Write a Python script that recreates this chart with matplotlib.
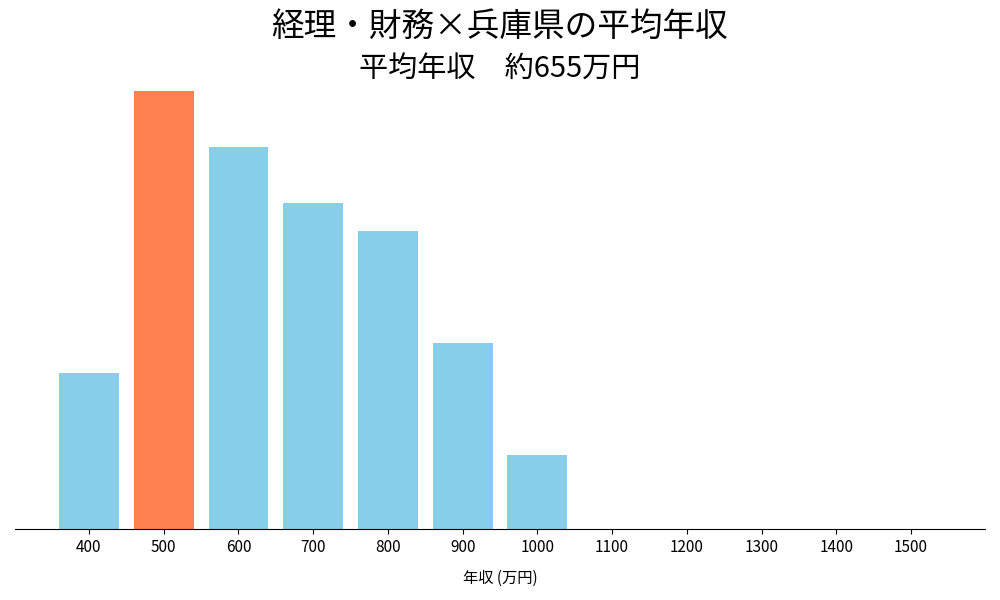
import matplotlib
matplotlib.use("Agg")
import matplotlib.pyplot as plt

plt.rcParams['font.family'] = ['Noto Sans CJK JP', 'DejaVu Sans']

# salary bins (万円) and share of people (%)
bins = [400, 500, 600, 700, 800, 900, 1000, 1100, 1200, 1300, 1400, 1500]
share = [8.4, 23.5, 20.5, 17.5, 16.0, 10.0, 4.0, 0, 0, 0, 0, 0]
highlight_bin = 500

title = "経理・財務×兵庫県の平均年収"
subtitle = "平均年収　約655万円"

colors = ['#FF7F50' if b == highlight_bin else '#87CEEB' for b in bins]

fig, ax = plt.subplots(figsize=(10, 6), dpi=100)
ax.bar(bins, share, width=80, color=colors)

ax.set_xticks(bins)
ax.set_xticklabels([str(b) for b in bins], fontsize=11)
ax.set_xlabel("年収 (万円)", fontsize=11, labelpad=10)
ax.set_yticks([])
for s in ['top', 'right', 'left']:
    ax.spines[s].set_visible(False)

fig.text(0.5, 0.955, title, ha='center', va='center', fontsize=23.5)
fig.text(0.5, 0.883, subtitle, ha='center', va='center', fontsize=21)

fig.subplots_adjust(left=0.015, right=0.985, bottom=0.118, top=0.885)
fig.savefig("out.png")
